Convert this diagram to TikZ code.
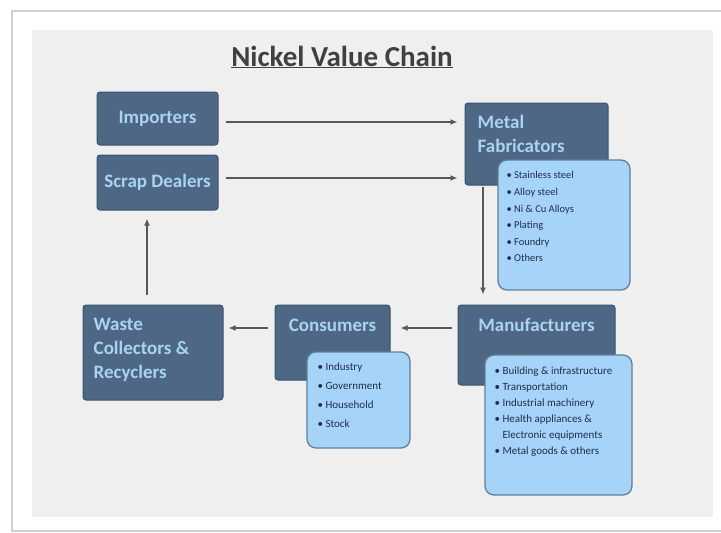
\documentclass[tikz,border=0pt]{standalone}
\usepackage{fontspec}
\setmainfont{Carlito}
\usetikzlibrary{arrows.meta,positioning}

\definecolor{panel}{HTML}{EFEFEF}
\definecolor{frameline}{HTML}{D0D0D0}
\definecolor{slate}{HTML}{4D6785}
\definecolor{slateline}{HTML}{3C536E}
\definecolor{boxtext}{HTML}{A9D3F3}
\definecolor{listfill}{HTML}{A6D4F8}
\definecolor{listline}{HTML}{5F7E9C}
\definecolor{listtext}{HTML}{1E2E4A}
\definecolor{arrowgray}{HTML}{585858}
\definecolor{titlegray}{HTML}{404040}

\tikzset{
  stage/.style={draw=slateline, fill=slate, rounded corners=3pt, line width=1pt, inner sep=0pt},
  stagetext/.style={text=boxtext, font=\bfseries\fontsize{19}{24}\selectfont, align=left, inner sep=0pt},
  listbox/.style={draw=listline, fill=listfill, rounded corners=9pt, line width=1.3pt, inner sep=0pt},
  listtext/.style={text=listtext, align=left, inner sep=0pt},
  flow/.style={-{Latex[length=7pt,width=6pt]}, draw=arrowgray, line width=1.6pt}
}

\begin{document}
\begin{tikzpicture}[x=1pt,y=-1pt]
  \useasboundingbox (0,0) rectangle (721,533);
  % frame and panel
  \fill[white] (0,0) rectangle (721,533);
  \draw[frameline, line width=2pt] (721,11) -- (12,11) -- (12,531) -- (721,531);
  \fill[panel] (32,30) rectangle (713,517);

  % title
  \node (title) at (342,57) {\textcolor{titlegray}{\bfseries\fontsize{29}{32}\selectfont\underline{Nickel Value Chain}}};

  % stages
  \node[stage, minimum width=121pt, minimum height=53pt] (importers) at (157.5,118.5) {};
  \node[stagetext] (importerstxt) at (importers.center) {Importers};
  \node[stage, minimum width=121pt, minimum height=55pt] (scrap) at (157.5,182.5) {};
  \node[stagetext] (scraptxt) at (scrap.center) {Scrap Dealers};
  \node[stage, minimum width=143pt, minimum height=82pt] (metal) at (536.5,144) {};
  \node[stagetext, anchor=north west] (metaltxt) at ([xshift=13pt,yshift=-12pt]metal.north west) {Metal\\Fabricators};
  \node[stage, minimum width=157pt, minimum height=80pt] (manuf) at (536.5,345) {};
  \node[stagetext, anchor=north] (manuftxt) at ([yshift=-14pt]manuf.north) {Manufacturers};
  \node[stage, minimum width=115pt, minimum height=75pt] (consumers) at (332.5,342.5) {};
  \node[stagetext, anchor=north] (consumerstxt) at ([yshift=-14pt]consumers.north) {Consumers};
  \node[stage, minimum width=140pt, minimum height=95pt] (waste) at (153,352.5) {};
  \node[stagetext, anchor=north west] (wastetxt) at ([xshift=11pt,yshift=-13pt]waste.north west) {Waste\\Collectors \&\\Recyclers};

  % detail lists
  \node[listbox, minimum width=132pt, minimum height=130pt] (metallist) at (564,225) {};
  \node[listtext, anchor=north west, font=\fontsize{10.5}{16.6}\selectfont] (metalitems) at ([xshift=9pt,yshift=-12pt]metallist.north west)
    {\textbullet\ Stainless steel\\\textbullet\ Alloy steel\\\textbullet\ Ni \& Cu Alloys\\\textbullet\ Plating\\\textbullet\ Foundry\\\textbullet\ Others};
  \node[listbox, minimum width=147pt, minimum height=140pt] (manuflist) at (558.5,425) {};
  \node[listtext, anchor=north west, font=\fontsize{11}{16}\selectfont] (manufitems) at ([xshift=10pt,yshift=-12pt]manuflist.north west)
    {\textbullet\ Building \& infrastructure\\\textbullet\ Transportation\\\textbullet\ Industrial machinery\\\textbullet\ Health appliances \&\\\phantom{\textbullet\ }Electronic equipments\\\textbullet\ Metal goods \& others};
  \node[listbox, minimum width=103pt, minimum height=96pt] (conslist) at (358.5,400) {};
  \node[listtext, anchor=north west, font=\fontsize{11}{19}\selectfont] (consitems) at ([xshift=11pt,yshift=-11pt]conslist.north west)
    {\textbullet\ Industry\\\textbullet\ Government\\\textbullet\ Household\\\textbullet\ Stock};

  % flows
  \coordinate (imp out) at ([xshift=7pt,yshift=-3.5pt]importers.east);
  \coordinate (scrap out) at ([xshift=7pt,yshift=4.5pt]scrap.east);
  \draw[flow] (imp out) -- ([xshift=-7pt]imp out -| metal.west);
  \draw[flow] (scrap out) -- ([xshift=-7pt]scrap out -| metal.west);
  \draw[flow] ([xshift=-53.5pt,yshift=-1pt]metal.south) -- ([xshift=-53.5pt,yshift=10pt]manuf.north);
  \draw[flow] ([xshift=-6pt,yshift=17pt]manuf.west) -- ([xshift=10pt,yshift=14.5pt]consumers.east);
  \draw[flow] ([xshift=-7pt,yshift=14.5pt]consumers.west) -- ([xshift=5pt,yshift=24.5pt]waste.east);
  \draw[flow] ([xshift=-6pt,yshift=10pt]waste.north) -- ([xshift=-10.5pt,yshift=-8pt]scrap.south);
\end{tikzpicture}
\end{document}
